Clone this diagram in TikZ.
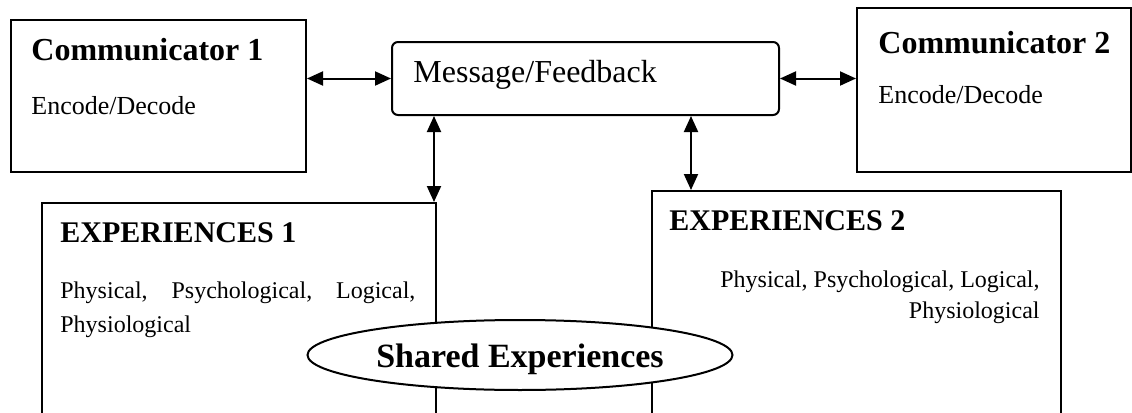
\documentclass[tikz,border=0pt]{standalone}
\usepackage{fontspec}
\setmainfont{Liberation Serif}
\usepackage{tikz}
\usetikzlibrary{shapes,arrows.meta}

\begin{document}
\begin{tikzpicture}[x=0.5pt,y=-0.5pt,
    box/.style={draw,line width=1pt,inner sep=0pt,anchor=north west},
    title/.style={font=\fontsize{16}{19}\selectfont\bfseries,inner sep=0pt,anchor=base west},
    body/.style={font=\fontsize{13}{16}\selectfont,inner sep=0pt,anchor=base west},
    arr/.style={line width=1pt,{Triangle[length=8pt,width=7pt]}-{Triangle[length=8pt,width=7pt]}}]
    \useasboundingbox (0,0) rectangle (1132,413);
    % boxes
    \node[box,minimum width=147.5pt,minimum height=76pt] (comm1) at (10,19) {};
    \node[box,rounded corners=3pt,minimum width=193.5pt,minimum height=36.5pt] (msg) at (391,41) {};
    \node[box,minimum width=137pt,minimum height=82pt] (comm2) at (856,7) {};
    \node[box,minimum width=197pt,minimum height=120pt] (exp1) at (41,202) {};
    \node[box,minimum width=204.5pt,minimum height=130pt] (exp2) at (651,190) {};
    % texts
    \node[title] (comm1title) at (31,60) {Communicator 1};
    \node[body] (comm1body) at (31,114) {Encode/Decode};
    \node[body,font=\fontsize{16}{19}\selectfont] (msgtext) at (413,82) {Message/Feedback};
    \node[title] (comm2title) at (878,53) {Communicator 2};
    \node[body] (comm2body) at (878,103) {Encode/Decode};
    \node[title,font=\fontsize{15}{18}\selectfont\bfseries] (exp1title) at (60,242) {EXPERIENCES 1};
    \node[body,font=\fontsize{12}{17}\selectfont,text width=177.5pt,align=justify] (exp1body) at (60,298)
      {\hyphenpenalty=10000 Physical, Psychological, Logical, Physiological};
    \node[title,font=\fontsize{15}{18}\selectfont\bfseries] (exp2title) at (669,230) {EXPERIENCES 2};
    \node[body,font=\fontsize{12}{15.5}\selectfont,align=right,anchor=base east] (exp2body) at (1040,318)
      {Physical, Psychological, Logical,\\Physiological};
    % connectors
    \draw[arr] (comm1.east |- msg.west) -- (msg.west);
    \draw[arr] (msg.east) -- (comm2.west |- msg.east);
    \draw[arr] ([xshift=-1.5pt]exp1.north east |- msg.south) -- ([xshift=-1.5pt]exp1.north east);
    \draw[arr] ([xshift=20pt]exp2.north west |- msg.south) -- ([xshift=20pt]exp2.north west);
    % shared part
    \node[ellipse,draw,line width=1pt,fill=white,inner sep=0pt,minimum width=212.5pt,minimum height=35pt,
      text height=15pt,text depth=3pt,font=\fontsize{17}{20}\selectfont\bfseries] (shared) at (520,355) {Shared Experiences};
  \end{tikzpicture}
\end{document}
